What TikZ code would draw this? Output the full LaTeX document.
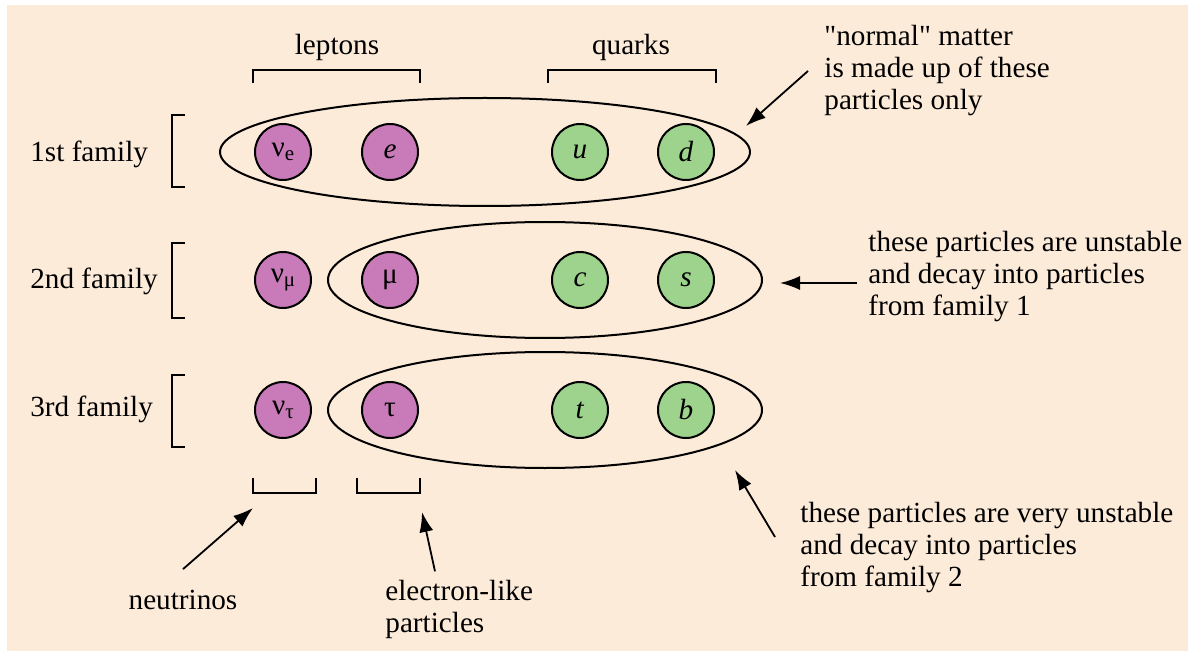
\documentclass[tikz,border=0pt]{standalone}
\usepackage{fontspec}
\setmainfont{Liberation Serif}
\usetikzlibrary{shapes.geometric,arrows.meta}

\definecolor{bgbeige}{HTML}{FDEBD9}
\definecolor{leptonpink}{HTML}{C87BB8}
\definecolor{quarkgreen}{HTML}{9DD38C}

\newcommand{\partsub}[1]{\raisebox{-0.35ex}{\fontsize{10.5}{10.5}\selectfont #1}}

\tikzset{
  lepton/.style={circle, draw, line width=1pt, fill=leptonpink, minimum size=28pt, inner sep=0pt},
  quark/.style={lepton, fill=quarkgreen},
  ring/.style={ellipse, draw, line width=1pt, inner sep=0pt},
  bracket/.style={line width=1pt},
  note/.style={align=left, anchor=west, inner sep=0pt},
  pointer/.style={-{Latex[length=10pt,width=7pt]}, line width=0.9pt},
}

\begin{document}
\begin{tikzpicture}[x=0.5pt, y=-0.5pt, font=\fontsize{14.6}{16}\selectfont]
    \useasboundingbox (0,0) rectangle (1188,652);
    \fill[bgbeige] (7,5) rectangle (1188,651);

    % group headings
    \node (leptons) at (337,47) {leptons};
    \node (quarks) at (631,47) {quarks};
    \draw[bracket] (253,83) -- (253,70) -- (420,70) -- (420,83);
    \draw[bracket] (548,83) -- (548,70) -- (716,70) -- (716,83);

    % families
    \node[note] (fam1) at (30,154) {1st family};
    \node[note] (fam2) at (30,281) {2nd family};
    \node[note] (fam3) at (30,409) {3rd family};
    \draw[bracket] (185,115) -- (172,115) -- (172,187) -- (185,187);
    \draw[bracket] (185,243) -- (172,243) -- (172,318) -- (185,318);
    \draw[bracket] (185,375) -- (172,375) -- (172,447) -- (185,447);

    % groupings
    \node[ring, minimum width=265pt, minimum height=54pt] (ring1) at (485,152) {};
    \node[ring, minimum width=217pt, minimum height=58pt] (ring2) at (545,280) {};
    \node[ring, minimum width=217pt, minimum height=58pt] (ring3) at (545,410) {};

    % particles
    \node[lepton] (nue) at (283,152) {ν\partsub{e}};
    \node[lepton] (e) at (390,152) {\textit{e}};
    \node[quark] (u) at (580,152) {\textit{u}};
    \node[quark] (d) at (686,152) {\textit{d}};

    \node[lepton] (numu) at (283,280) {ν\partsub{μ}};
    \node[lepton] (mu) at (390,280) {μ};
    \node[quark] (c) at (580,280) {\textit{c}};
    \node[quark] (s) at (686,280) {\textit{s}};

    \node[lepton] (nutau) at (283,410) {ν\partsub{τ}};
    \node[lepton] (tau) at (390,410) {τ};
    \node[quark] (t) at (580,410) {\textit{t}};
    \node[quark] (b) at (686,410) {\textit{b}};

    % lower brackets
    \draw[bracket] (253,478) -- (253,493) -- (316,493) -- (316,478);
    \draw[bracket] (357,478) -- (357,493) -- (420,493) -- (420,478);

    % notes
    \node[note] (normal) at (824,71) {\textquotedbl normal\textquotedbl{} matter\\is made up of these\\particles only};
    \node[note] (unstable) at (868,277) {these particles are unstable\\and decay into particles\\from family 1};
    \node[note] (veryunstable) at (800,548) {these particles are very unstable\\and decay into particles\\from family 2};
    \node (neutrinos) at (183,600) {neutrinos};
    \node[note] (electronlike) at (385,609) {electron-like\\particles};

    \coordinate (tip1) at (746,126);
    \coordinate (tip2) at (780,283);
    \coordinate (tip3) at (735,470);
    \coordinate (tip4) at (253,508);
    \coordinate (tip5) at (422,512);

    \draw[pointer] ([xshift=-8pt]normal.west) -- (tip1);
    \draw[pointer] ([xshift=-5.5pt,yshift=-3pt]unstable.west) -- (tip2);
    \draw[pointer] ([xshift=-12.5pt,yshift=5.5pt]veryunstable.west) -- (tip3);
    \draw[pointer] ([yshift=7pt]neutrinos.north) -- (tip4);
    \draw[pointer] ([xshift=25pt,yshift=4pt]electronlike.north west) -- (tip5);
\end{tikzpicture}
\end{document}
